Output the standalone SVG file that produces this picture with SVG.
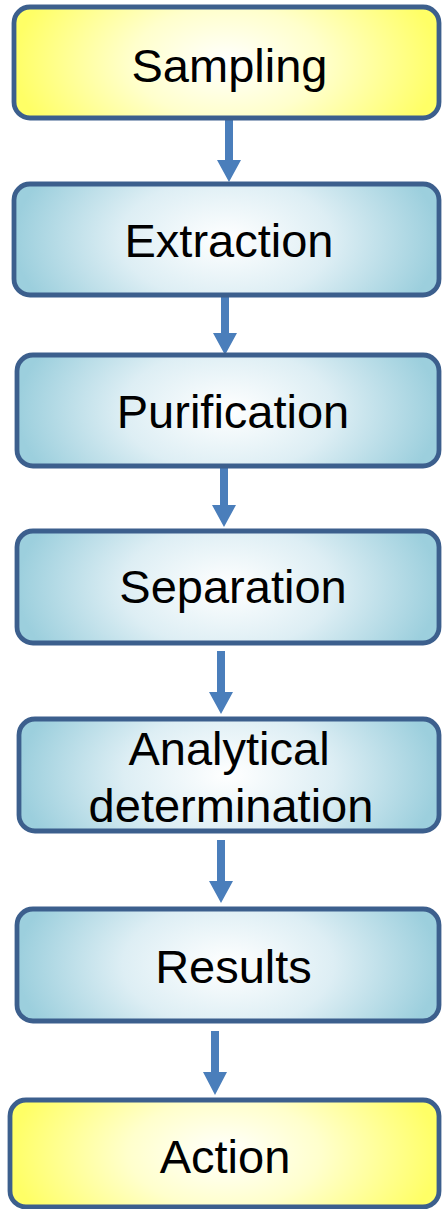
<svg xmlns="http://www.w3.org/2000/svg" width="442" height="1209" viewBox="0 0 442 1209">
<defs>
<radialGradient id="gy" cx="0.5" cy="0.5" r="0.5" gradientTransform="translate(0.5,0.5) scale(1,2.2) translate(-0.5,-0.5)">
<stop offset="0" stop-color="#ffffff"/>
<stop offset="0.45" stop-color="#ffffcc"/>
<stop offset="1" stop-color="#ffff66"/>
</radialGradient>
<radialGradient id="gb" cx="0.5" cy="0.5" r="0.5" gradientTransform="translate(0.5,0.5) scale(1,2.2) translate(-0.5,-0.5)">
<stop offset="0" stop-color="#ffffff"/>
<stop offset="0.5" stop-color="#ddeef4"/>
<stop offset="1" stop-color="#9ccfdd"/>
</radialGradient>
</defs>
<style>
.box{stroke:#3c5f8d;stroke-width:4.8}
.y{fill:url(#gy)}
.b{fill:url(#gb)}
text{font-family:"Liberation Sans",Arial,sans-serif;font-size:47px;fill:#000;text-anchor:middle}
.arr{fill:#4a7ebb}
</style>
<g id="connectors">
<polygon class="arr" points="225,120 233,120 233,160 241,160 229,182 217,160 225,160"/>
<polygon class="arr" points="221,297 229,297 229,333 237,333 225,355 213,333 221,333"/>
<polygon class="arr" points="220,468 228,468 228,505 236,505 224,527 212,505 220,505"/>
<polygon class="arr" points="217,651 225,651 225,692 233,692 221,714 209,692 217,692"/>
<polygon class="arr" points="217,840 225,840 225,881 233,881 221,903 209,881 217,881"/>
<polygon class="arr" points="211,1031 219,1031 219,1072 227,1072 215,1095 203,1072 211,1072"/>
</g>
<g id="sampling">
<rect class="box y" x="14" y="7" width="425" height="111" rx="16"/>
<text x="229.5" y="82">Sampling</text>
</g>
<g id="extraction">
<rect class="box b" x="14" y="184" width="425" height="111" rx="16"/>
<text x="229" y="257">Extraction</text>
</g>
<g id="purification">
<rect class="box b" x="17" y="355" width="422" height="111" rx="16"/>
<text x="233" y="428">Purification</text>
</g>
<g id="separation">
<rect class="box b" x="17" y="531" width="422" height="112" rx="16"/>
<text x="233" y="603">Separation</text>
</g>
<g id="analytical">
<rect class="box b" x="19" y="719" width="420" height="112" rx="16"/>
<text x="229" y="765">Analytical</text>
<text x="231" y="822">determination</text>
</g>
<g id="results">
<rect class="box b" x="17" y="909" width="422" height="112" rx="16"/>
<text x="233.5" y="983">Results</text>
</g>
<g id="action">
<rect class="box y" x="10" y="1100" width="429" height="107" rx="16"/>
<text x="225" y="1173">Action</text>
</g>
</svg>
